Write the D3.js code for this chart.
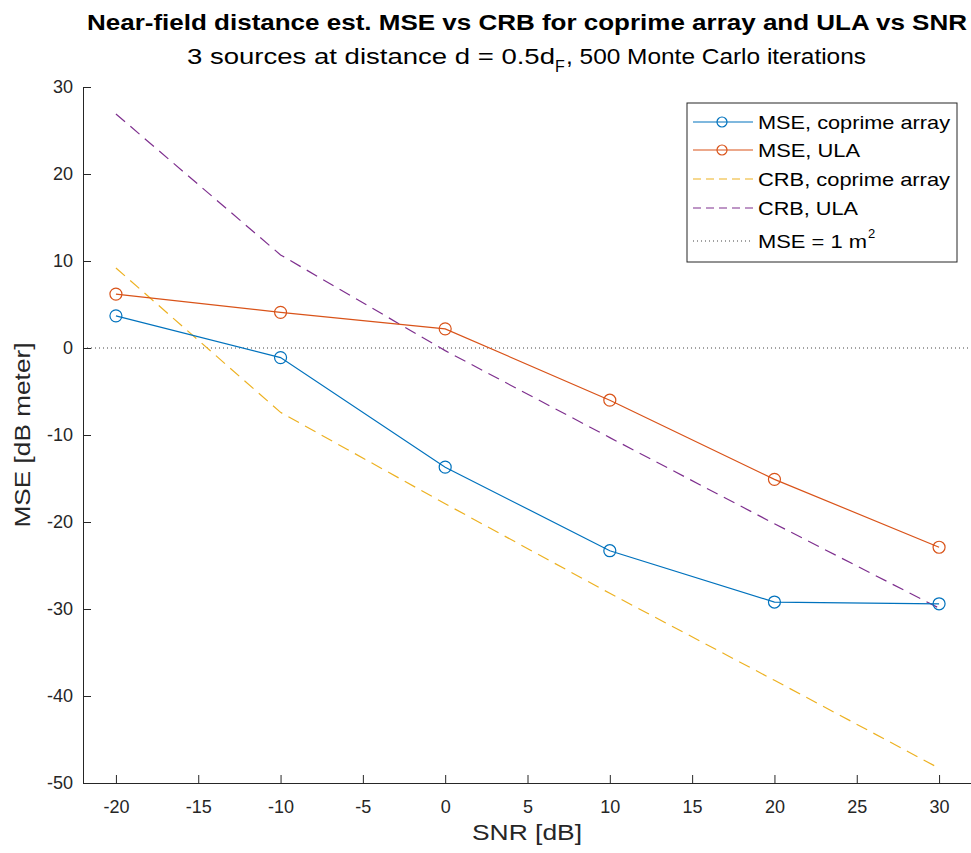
<!DOCTYPE html>
<html><head><meta charset="utf-8">
<script src="https://cdn.jsdelivr.net/npm/d3@7/dist/d3.min.js"></script>
<style>body{margin:0;background:#fff}svg{display:block;font-family:"Liberation Sans",Arial,sans-serif}</style>
</head><body><svg id="c" width="971" height="853"></svg>
<script>
const snr = [-20, -10, 0, 10, 20, 30];
const mseCoprime = [3.7, -1.1, -13.7, -23.3, -29.2, -29.4];
const mseULA = [6.2, 4.1, 2.2, -6.0, -15.1, -22.9];
const crbCoprime = [9.2, -7.4, -17.9, -28.2, -38.2, -48.3];
const crbULA = [26.9, 10.7, -0.3, -10.3, -20.2, -29.9];
const xTicks = [-20, -15, -10, -5, 0, 5, 10, 15, 20, 25, 30];
const yTicks = [-50, -40, -30, -20, -10, 0, 10, 20, 30];
const legendLabels = ["MSE, coprime array", "MSE, ULA", "CRB, coprime array", "CRB, ULA", "MSE = 1 m"];

const svg = d3.select("#c");
const x = d3.scaleLinear().domain([-22, 32]).range([83, 972]);
const y = d3.scaleLinear().domain([-50, 30]).range([783, 87]);
const ax = "#262626";

// y = 0 dotted reference
svg.append("line").attr("x1", x(-22)).attr("x2", x(32)).attr("y1", y(0)).attr("y2", y(0))
  .attr("stroke", "#444").attr("stroke-width", 1).attr("stroke-dasharray", "1,3");

// axes
const fmt = d => String(d);
const xAxis = d3.axisBottom(x).tickValues(xTicks).tickFormat(fmt).tickSizeInner(-8).tickSizeOuter(0).tickPadding(17);
const gx = svg.append("g").attr("transform", `translate(0,${y(-50)})`).call(xAxis);
const yAxis = d3.axisLeft(y).tickValues(yTicks).tickFormat(fmt).tickSizeInner(-8).tickSizeOuter(0).tickPadding(10);
const gy = svg.append("g").attr("transform", `translate(${x(-22)},0)`).call(yAxis);
[gx, gy].forEach(g => {
  g.select(".domain").attr("stroke", ax).attr("stroke-width", 1);
  g.selectAll(".tick line").attr("stroke", ax);
  g.selectAll(".tick text").attr("fill", ax).style("font-size", "18px").style("font-family", "Liberation Sans, Arial, sans-serif");
});

// series
const colors = {blue: "#0072BD", orange: "#D95319", yellow: "#EDB120", purple: "#7E2F8E"};
const line = d3.line().x((d, i) => x(snr[i])).y(d => y(d));
function drawSeries(vals, color, dashed, markers) {
  svg.append("path").datum(vals).attr("d", line).attr("fill", "none")
    .attr("stroke", color).attr("stroke-width", 1.2)
    .attr("stroke-dasharray", dashed ? "12,7" : null);
  if (markers) {
    svg.append("g").selectAll("circle").data(vals).join("circle")
      .attr("cx", (d, i) => x(snr[i])).attr("cy", d => y(d)).attr("r", 6)
      .attr("fill", "none").attr("stroke", color).attr("stroke-width", 1.2);
  }
}
drawSeries(crbCoprime, colors.yellow, true, false);
drawSeries(crbULA, colors.purple, true, false);
drawSeries(mseCoprime, colors.blue, false, true);
drawSeries(mseULA, colors.orange, false, true);

// legend
const lg = svg.append("g");
lg.append("rect").attr("x", 687).attr("y", 103).attr("width", 270).attr("height", 159)
  .attr("fill", "#fff").attr("stroke", ax).attr("stroke-width", 1);
const legendStyles = [
  {c: colors.blue, dash: null, m: true, w: 192},
  {c: colors.orange, dash: null, m: true, w: 102},
  {c: colors.yellow, dash: "8,5", m: false, w: 192},
  {c: colors.purple, dash: "8,5", m: false, w: 100},
  {c: "#444", dash: "1,3", m: false, w: 109}
];
const ly = [122, 150, 179, 208, 241];
legendLabels.forEach((t, i) => {
  const s = legendStyles[i];
  lg.append("line").attr("x1", 693).attr("x2", 753).attr("y1", ly[i]).attr("y2", ly[i])
    .attr("stroke", s.c).attr("stroke-width", 1.2).attr("stroke-dasharray", s.dash);
  if (s.m) lg.append("circle").attr("cx", 722).attr("cy", ly[i]).attr("r", 5)
    .attr("fill", "none").attr("stroke", s.c).attr("stroke-width", 1.2);
  const tx = lg.append("text").attr("x", 758).attr("y", ly[i] + 7).attr("fill", "#000")
    .style("font-size", "19px").attr("textLength", s.w).attr("lengthAdjust", "spacingAndGlyphs").text(t);
  if (i === 4) lg.append("text").attr("x", 868).attr("y", ly[i] - 3).attr("fill", "#000")
    .style("font-size", "13px").text("2");
});

// titles
svg.append("text").attr("x", 527).attr("y", 30).attr("text-anchor", "middle")
  .style("font-size", "22px").style("font-weight", "bold").attr("fill", "#000")
  .attr("textLength", 880).attr("lengthAdjust", "spacingAndGlyphs")
  .text("Near-field distance est. MSE vs CRB for coprime array and ULA vs SNR");
const sub1 = "3 sources at distance d = 0.5d";
const sub2 = ", 500 Monte Carlo iterations";
svg.append("text").attr("x", 187).attr("y", 64).attr("fill", "#000").style("font-size", "22px")
  .attr("textLength", 368).attr("lengthAdjust", "spacingAndGlyphs").text(sub1);
svg.append("text").attr("x", 555).attr("y", 72).attr("fill", "#000").style("font-size", "16px").text("F");
svg.append("text").attr("x", 566).attr("y", 64).attr("fill", "#000").style("font-size", "22px")
  .attr("textLength", 300).attr("lengthAdjust", "spacingAndGlyphs").text(sub2);

svg.append("text").attr("x", 527).attr("y", 840).attr("text-anchor", "middle")
  .style("font-size", "22px").attr("fill", ax)
  .attr("textLength", 110).attr("lengthAdjust", "spacingAndGlyphs").text("SNR [dB]");
svg.append("text").attr("transform", "translate(30,435) rotate(-90)").attr("text-anchor", "middle")
  .style("font-size", "22px").attr("fill", ax)
  .attr("textLength", 185).attr("lengthAdjust", "spacingAndGlyphs").text("MSE [dB meter]");
</script></body></html>
